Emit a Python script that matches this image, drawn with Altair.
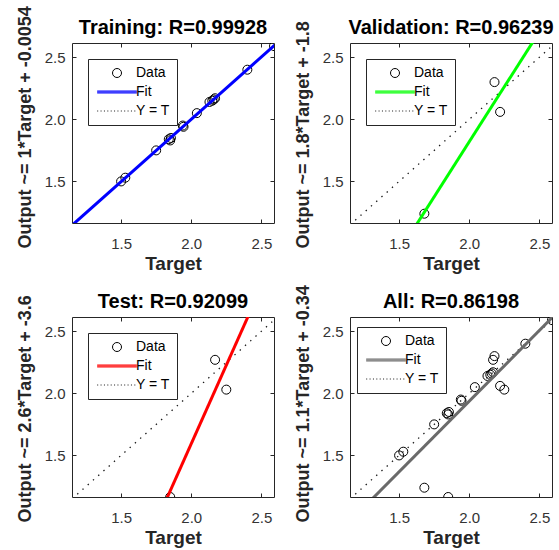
import altair as alt
import pandas as pd

# ---------------- data ----------------
TRAIN_TARGET = [1.50, 1.53, 1.75, 1.84, 1.85, 1.855, 1.94, 1.945, 2.04, 2.13, 2.15, 2.16, 2.17, 2.40, 2.59]
TRAIN_OUTPUT = [1.50, 1.53, 1.75, 1.84, 1.83, 1.85, 1.95, 1.94, 2.05, 2.14, 2.15, 2.16, 2.17, 2.40, 2.59]
VAL_TARGET = [1.68, 2.18, 2.22]
VAL_OUTPUT = [1.24, 2.30, 2.06]
TEST_TARGET = [1.85, 2.17, 2.25]
TEST_OUTPUT = [1.165, 2.27, 2.03]
ALL_TARGET = TRAIN_TARGET + VAL_TARGET + TEST_TARGET
ALL_OUTPUT = TRAIN_OUTPUT + VAL_OUTPUT + TEST_OUTPUT

IDENT = [1.15, 2.6]
FIT_EXTENT = [1.15, 2.6]
X_DOMAIN = [1.15, 2.59]
Y_DOMAIN = [1.165, 2.615]
TICKS = [1.5, 2.0, 2.5]
SERIES = ["Data", "Fit", "Y = T"]

# title, y-axis title, targets, outputs, fit colour, legend (x, y), panel-title offset
PANELS = [
    ("Training: R=0.99928", "Output ~= 1*Target + -0.0054", TRAIN_TARGET, TRAIN_OUTPUT, "#0000ff", (16, 16), -32),
    ("Validation: R=0.96239", "Output ~= 1.8*Target + -1.8", VAL_TARGET, VAL_OUTPUT, "#00ff00", (16, 16), -17),
    ("Test: R=0.92099", "Output ~= 2.6*Target + -3.6", TEST_TARGET, TEST_OUTPUT, "#ff0000", (16, 16), -17),
    ("All: R=0.86198", "Output ~= 1.1*Target + -0.34", ALL_TARGET, ALL_OUTPUT, "#6a6a6a", (7, 10), -27),
]

# ---------------- style ----------------
FONT = "Liberation Sans"
INK = "#262626"
W, H = 202, 180

# legend symbol shapes (unit square scaled by sqrt(size)/2)
FIT_PATH = "M-4.4,-0.22L4.4,-0.22M-4.4,0L4.4,0M-4.4,0.22L4.4,0.22"
DOT_PATH = "".join(f"M{-4.4 + i * 0.75:.2f},0L{-4.4 + i * 0.75 + 0.22:.2f},0" for i in range(12))


def panel(title, eq, targets, outputs, fit_color, legend_xy, title_offset):
    df = pd.DataFrame({"Target": targets, "Output": outputs, "series": "Data"})
    ident = pd.DataFrame({"Target": IDENT, "Output": IDENT, "series": "Y = T"})

    xs = alt.Scale(domain=X_DOMAIN, nice=False, zero=False)
    ys = alt.Scale(domain=Y_DOMAIN, nice=False, zero=False)
    color_scale = alt.Scale(domain=SERIES, range=["black", fit_color, "#1a1a1a"])
    shape_scale = alt.Scale(domain=SERIES, range=["circle", FIT_PATH, DOT_PATH])

    legend = alt.Legend(
        orient="none", legendX=legend_xy[0], legendY=legend_xy[1], title=None,
        strokeColor=INK, fillColor="white", padding=7, cornerRadius=0,
        symbolSize=81, symbolStrokeWidth=1, symbolOffset=15, labelOffset=12,
        rowPadding=5, labelFont=FONT, labelFontSize=14, labelColor="black",
        symbolOpacity=1,
    )

    x_main = alt.Axis(
        orient="bottom", values=TICKS, title="Target", domain=False, grid=False,
        tickSize=4, offset=-4, tickColor=INK, labelPadding=13, labelFont=FONT,
        labelFontSize=15, labelColor="#333333", titleFont=FONT, titleFontSize=19,
        titleFontWeight="bold", titleColor=INK, titlePadding=3,
    )
    y_main = alt.Axis(
        orient="left", values=TICKS, title=eq, domain=False, grid=False,
        tickSize=4, offset=-4, tickColor=INK, labelPadding=7, labelFont=FONT,
        labelFontSize=15, labelColor="#333333", titleFont=FONT, titleFontSize=18,
        titleFontWeight="bold", titleColor=INK, titlePadding=10,
        titleAnchor="start", titleY=H + 25,
    )
    x_top = alt.Axis(orient="top", values=TICKS, title=None, labels=False, domain=False,
                     grid=False, tickSize=4, offset=-4, tickColor=INK)
    y_right = alt.Axis(orient="right", values=TICKS, title=None, labels=False, domain=False,
                       grid=False, tickSize=4, offset=-4, tickColor=INK)

    ident_line = alt.Chart(ident).mark_line(strokeWidth=1.3, strokeDash=[1.4, 5.6], clip=True).encode(
        x=alt.X("Target:Q", scale=xs, axis=x_top),
        y=alt.Y("Output:Q", scale=ys, axis=y_right),
        color=alt.Color("series:N", scale=color_scale, legend=legend),
    )
    fit = alt.Chart(df).transform_regression(
        "Target", "Output", extent=FIT_EXTENT
    ).transform_calculate(series="'Fit'").mark_line(strokeWidth=3, clip=True).encode(
        x=alt.X("Target:Q", scale=xs, axis=None),
        y=alt.Y("Output:Q", scale=ys, axis=None),
        color=alt.Color("series:N", scale=color_scale, legend=legend),
    )
    points = alt.Chart(df).mark_point(filled=False, size=81, strokeWidth=1, opacity=1, clip=True).encode(
        x=alt.X("Target:Q", scale=xs, axis=x_main),
        y=alt.Y("Output:Q", scale=ys, axis=y_main),
        color=alt.Color("series:N", scale=color_scale, legend=legend),
        shape=alt.Shape("series:N", scale=shape_scale, legend=legend),
    )
    return alt.layer(points, ident_line, fit).resolve_axis(
        x="independent", y="independent"
    ).properties(
        width=W, height=H,
        title=alt.TitleParams(title, font=FONT, fontSize=20, fontWeight="bold",
                              color="black", offset=title_offset, anchor="middle"),
    )


charts = [panel(*p) for p in PANELS]
row1 = alt.hconcat(charts[0], charts[1], spacing=18).resolve_scale(color="independent", shape="independent")
row2 = alt.hconcat(charts[2], charts[3], spacing=18).resolve_scale(color="independent", shape="independent")
chart = alt.vconcat(row1, row2, spacing=10).resolve_scale(
    color="independent", shape="independent"
).properties(
    padding={"left": 15, "top": 5, "right": 2, "bottom": 2},
    background="white",
).configure_view(stroke=INK, strokeWidth=1)

chart.save("out.html", embed_options={"renderer": "svg", "actions": False})
